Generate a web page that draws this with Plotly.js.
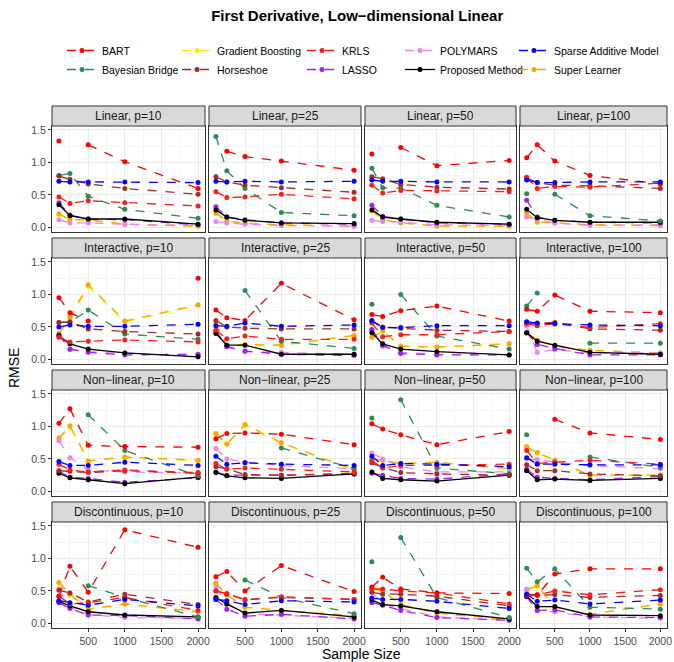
<!DOCTYPE html>
<html>
<head>
<meta charset="utf-8">
<script src="https://cdn.plot.ly/plotly-3.0.1.min.js"></script>
<style>body{margin:0;background:#fff}#chart{width:674px;height:662px}</style>
</head>
<body>
<div id="chart"></div>
<script>
// sample sizes and facet labels
const sampleSizes = [100, 250, 500, 1000, 2000];
const rowLabels = ['Linear', 'Interactive', 'Non\u2212linear', 'Discontinuous'];
const colLabels = ['p=10', 'p=25', 'p=50', 'p=100'];

// one row per panel (row-major: Linear p10..p100, Interactive..., ...)
const bart = [
  [1.33, null, 1.27, 1.01, 0.60], [null, 1.17, 1.09, 1.02, 0.88], [1.13, null, 1.23, 0.95, 1.03], [1.07, 1.27, 1.02, 0.80, 0.67],
  [0.95, 0.72, 0.59, null, 1.25], [0.76, 0.64, 0.60, 1.17, 0.61], [0.69, 0.66, 0.75, 0.82, 0.59], [0.77, 0.74, 0.99, 0.74, 0.72],
  [1.05, 1.27, 0.71, 0.69, 0.68], [0.81, 0.89, 0.90, 0.88, 0.72], [1.04, 0.96, 0.87, 0.72, 0.92], [null, null, 1.11, 0.90, 0.80],
  [0.42, 0.88, 0.48, 1.44, 1.17], [0.72, 0.80, 0.50, 0.89, 0.49], [0.56, 0.71, 0.53, 0.47, 0.46], [0.44, 0.43, 0.76, 0.84, 0.84],
];
const krls = [
  [0.47, 0.37, 0.41, 0.38, 0.33], [0.55, 0.46, 0.47, 0.51, 0.44], [0.65, 0.53, 0.57, 0.56, 0.55], [0.77, 0.60, 0.63, 0.62, 0.68],
  [0.34, 0.27, 0.28, 0.30, 0.27], [0.45, 0.32, 0.36, 0.31, 0.31], [0.56, 0.35, 0.38, 0.38, 0.43], [0.55, 0.52, 0.55, 0.49, 0.55],
  [0.42, 0.33, 0.30, 0.33, 0.29], [0.43, 0.34, 0.36, 0.34, 0.30], [0.47, 0.36, 0.40, 0.40, 0.42], [0.63, 0.43, 0.45, 0.48, 0.42],
  [0.42, 0.30, 0.32, 0.40, 0.20], [0.50, 0.46, 0.36, 0.41, 0.37], [0.53, 0.53, 0.50, 0.47, 0.30], [0.45, 0.44, 0.50, 0.44, 0.52],
];
const bayesBridge = [
  [0.80, 0.83, 0.48, 0.28, 0.14], [1.40, 0.87, 0.60, 0.23, 0.18], [0.91, 0.61, 0.61, 0.34, 0.16], [0.52, null, 0.51, 0.18, 0.10],
  [0.57, 0.57, 0.76, 0.39, 0.31], [null, null, 1.06, 0.28, 0.17], [0.85, null, 1.00, 0.36, 0.16], [0.82, 1.02, null, 0.25, 0.25],
  [null, null, 1.18, 0.63, 0.24], [null, null, null, 0.67, 0.35], [1.13, null, 1.41, 0.36, 0.27], [0.87, null, null, 0.53, 0.37],
  [null, null, 0.58, 0.40, 0.10], [null, null, 0.67, 0.40, 0.15], [0.95, null, 1.32, 0.40, 0.09], [0.85, 0.64, 0.84, 0.25, 0.22],
];
const horseshoe = [
  [0.79, 0.74, 0.67, 0.60, 0.51], [0.78, 0.70, 0.65, 0.61, 0.54], [0.78, 0.75, 0.66, 0.62, 0.59], [0.76, 0.69, 0.65, 0.64, 0.60],
  [0.57, 0.58, 0.47, 0.43, 0.39], [0.60, 0.50, 0.48, 0.47, 0.47], [0.58, 0.50, 0.48, 0.45, 0.43], [0.56, 0.55, 0.57, 0.47, 0.45],
  [0.32, 0.31, 0.29, 0.32, 0.28], [0.38, 0.35, 0.26, 0.25, 0.28], [0.44, 0.37, 0.29, 0.27, 0.25], [0.41, 0.32, 0.32, 0.27, 0.24],
  [0.51, 0.47, 0.33, 0.45, 0.29], [0.50, 0.45, 0.37, 0.40, 0.37], [0.48, 0.45, 0.45, 0.42, 0.27], [0.43, 0.44, 0.44, 0.40, 0.43],
];
const sparseAdditive = [
  [0.71, 0.70, 0.70, 0.70, 0.69], [0.71, 0.70, 0.71, 0.70, 0.71], [0.73, 0.71, 0.71, 0.70, 0.70], [0.73, 0.69, 0.69, 0.70, 0.70],
  [0.50, 0.53, 0.51, 0.51, 0.54], [0.52, 0.51, 0.56, 0.51, 0.53], [0.60, 0.49, 0.49, 0.52, 0.52], [0.58, 0.56, 0.55, 0.53, 0.52],
  [0.46, 0.40, 0.40, 0.45, 0.40], [0.54, 0.42, 0.44, 0.42, 0.40], [0.54, 0.40, 0.43, 0.42, 0.38], [0.52, 0.42, 0.42, 0.41, 0.41],
  [0.35, 0.32, 0.28, 0.37, 0.27], [0.37, 0.35, 0.29, 0.35, 0.33], [0.39, 0.37, 0.37, 0.34, 0.23], [0.45, 0.34, 0.36, 0.30, 0.36],
];
const superLearner = [
  [0.21, 0.12, 0.12, 0.05, 0.02], [0.22, 0.10, 0.06, 0.04, 0.02], [0.26, 0.12, 0.07, 0.02, 0.02], [0.22, 0.08, 0.07, 0.04, 0.03],
  [0.40, 0.65, 1.15, 0.59, 0.84], [0.56, 0.20, 0.23, 0.22, 0.37], [0.34, 0.44, 0.20, 0.19, 0.24], [0.41, 0.30, 0.20, 0.14, 0.10],
  [0.82, 1.01, 0.47, 0.53, 0.48], [0.89, 0.73, 1.03, 0.75, 0.33], [0.50, 0.48, 0.43, 0.45, 0.35], [0.69, 0.60, 0.48, 0.25, 0.25],
  [0.63, 0.45, 0.22, 0.30, 0.18], [0.62, 0.44, 0.25, 0.20, 0.12], [0.54, 0.50, 0.29, 0.16, 0.06], [0.52, 0.58, 0.25, 0.14, 0.30],
];
const gradientBoosting = [
  [0.20, 0.12, 0.11, 0.05, 0.02], [0.22, 0.10, 0.07, 0.04, 0.02], [0.25, 0.12, 0.07, 0.03, 0.02], [0.22, 0.09, 0.07, 0.04, 0.03],
  [0.40, 0.62, 1.12, 0.58, 0.83], [0.55, 0.21, 0.23, 0.22, 0.36], [0.34, 0.43, 0.21, 0.19, 0.24], [0.40, 0.30, 0.20, 0.14, 0.10],
  [0.81, 0.99, 0.47, 0.52, 0.47], [0.88, 0.73, 1.01, 0.74, 0.33], [0.50, 0.47, 0.43, 0.44, 0.35], [0.68, 0.59, 0.48, 0.25, 0.25],
  [0.62, 0.44, 0.22, 0.30, 0.18], [0.61, 0.44, 0.25, 0.20, 0.12], [0.53, 0.49, 0.29, 0.16, 0.06], [0.51, 0.57, 0.25, 0.14, 0.30],
];
const lasso = [
  [0.38, 0.19, 0.13, 0.12, 0.04], [0.32, 0.16, 0.12, 0.07, 0.05], [0.34, 0.17, 0.13, 0.07, 0.05], [0.42, 0.16, 0.11, 0.08, 0.07],
  [0.38, 0.16, 0.11, 0.07, 0.08], [0.44, 0.20, 0.13, 0.08, 0.06], [0.46, 0.22, 0.09, 0.07, 0.07], [0.41, 0.23, 0.17, 0.07, 0.07],
  [0.31, 0.22, 0.20, 0.14, 0.21], [0.30, 0.25, 0.25, 0.25, 0.27], [0.28, 0.25, 0.20, 0.19, 0.27], [0.34, 0.22, 0.20, 0.18, 0.23],
  [0.32, 0.23, 0.13, 0.12, 0.07], [0.37, 0.22, 0.11, 0.14, 0.07], [0.32, 0.28, 0.20, 0.09, 0.05], [0.41, 0.20, 0.21, 0.10, 0.09],
];
const polymars = [
  [0.12, 0.07, 0.07, 0.05, 0.03], [0.09, 0.07, 0.05, 0.03, 0.02], [0.11, 0.09, 0.08, 0.04, 0.03], [0.16, 0.13, 0.07, 0.03, 0.04],
  [0.37, 0.15, 0.12, 0.09, 0.06], [0.42, 0.19, 0.12, 0.11, 0.08], [0.45, 0.20, 0.11, 0.08, 0.07], [0.52, 0.11, 0.15, 0.10, 0.10],
  [0.78, 0.52, 0.33, 0.30, 0.28], [0.66, 0.50, 0.45, 0.40, 0.35], [0.59, 0.50, 0.38, 0.30, 0.30], [0.50, 0.49, 0.45, 0.40, 0.35],
  [0.53, 0.25, 0.14, 0.09, 0.08], [0.56, 0.30, 0.15, 0.13, 0.08], [0.48, 0.30, 0.23, 0.10, 0.05], [0.53, 0.20, 0.18, 0.10, 0.08],
];
const proposed = [
  [0.35, 0.18, 0.13, 0.13, 0.05], [0.27, 0.16, 0.11, 0.07, 0.06], [0.27, 0.16, 0.13, 0.08, 0.05], [0.28, 0.15, 0.11, 0.08, 0.08],
  [0.36, 0.24, 0.16, 0.10, 0.04], [0.40, 0.22, 0.22, 0.08, 0.08], [0.41, 0.24, 0.16, 0.12, 0.07], [0.41, 0.28, 0.22, 0.11, 0.08],
  [0.28, 0.21, 0.18, 0.12, 0.22], [0.29, 0.24, 0.21, 0.20, 0.27], [0.30, 0.20, 0.18, 0.16, 0.25], [0.32, 0.18, 0.19, 0.17, 0.20],
  [0.34, 0.27, 0.18, 0.13, 0.10], [0.40, 0.30, 0.16, 0.20, 0.10], [0.36, 0.29, 0.27, 0.18, 0.07], [0.42, 0.26, 0.26, 0.13, 0.12],
];

// legend: five columns of two entries, one Plotly legend per column
const methods = [
  { name: 'BART', rows: bart, color: '#FF0000', dash: 'dash', leg: 'legend' },
  { name: 'Bayesian Bridge', rows: bayesBridge, color: '#2E8B57', dash: 'dash', leg: 'legend' },
  { name: 'Gradient Boosting', rows: gradientBoosting, color: '#FFEE00', dash: 'dash', leg: 'legend2' },
  { name: 'Horseshoe', rows: horseshoe, color: '#A52A2A', dash: 'dash', leg: 'legend2' },
  { name: 'KRLS', rows: krls, color: '#FF1A1A', dash: 'dash', leg: 'legend3' },
  { name: 'LASSO', rows: lasso, color: '#A020F0', dash: 'dash', leg: 'legend3' },
  { name: 'POLYMARS', rows: polymars, color: '#EE82EE', dash: 'dash', leg: 'legend4' },
  { name: 'Proposed Method', rows: proposed, color: '#000000', dash: 'solid', leg: 'legend4' },
  { name: 'Sparse Additive Model', rows: sparseAdditive, color: '#0000FF', dash: 'dash', leg: 'legend5' },
  { name: 'Super Learner', rows: superLearner, color: '#FFA500', dash: 'dash', leg: 'legend5' },
];
const legendX = [62, 177, 302, 400, 514];
// draw order (later on top)
const drawOrder = ['Gradient Boosting', 'Super Learner', 'POLYMARS', 'LASSO', 'Proposed Method', 'Bayesian Bridge',
  'Horseshoe', 'KRLS', 'BART', 'Sparse Additive Model'];

const W = 674, H = 662;
const colPx = [[52, 205], [209, 361], [365, 516], [520, 667]];
const stripTop = [106, 238, 370, 502];
const stripH = 20, plotH = 106;

const px = v => v / W;
const py = v => 1 - v / H;

const layout = {
  width: W, height: H,
  margin: { l: 0, r: 0, t: 0, b: 0 },
  paper_bgcolor: '#fff', plot_bgcolor: '#fff',
  font: { family: 'Liberation Sans, Arial, sans-serif', color: '#000' },
  showlegend: true,
  title: { text: '<b>First Derivative, Low\u2212dimensional Linear</b>', x: 0.53, y: py(16), yanchor: 'middle', font: { size: 15 } },
  shapes: [], annotations: [],
};
legendX.forEach((lx, i) => {
  layout['legend' + (i === 0 ? '' : i + 1)] = {
    orientation: 'v', x: px(lx), y: py(36), xanchor: 'left', yanchor: 'top',
    font: { size: 10.5 }, traceorder: 'normal', itemwidth: 30, tracegroupgap: 0, bgcolor: 'rgba(0,0,0,0)',
  };
});

for (let r = 0; r < 4; r++) {
  for (let c = 0; c < 4; c++) {
    const k = r * 4 + c + 1;
    const top = stripTop[r] + stripH, bot = top + plotH;
    layout['xaxis' + k] = {
      domain: [px(colPx[c][0]), px(colPx[c][1])], anchor: 'y' + k,
      range: [5, 2095], tickvals: [500, 1000, 1500, 2000],
      showticklabels: r === 3, ticks: r === 3 ? 'outside' : '', ticklen: 3, tickcolor: '#333',
      tickfont: { size: 10.5, color: '#4d4d4d' },
      showgrid: true, gridcolor: '#ebebeb', gridwidth: 1,
      minor: { tickvals: [250, 750, 1250, 1750], showgrid: true, gridcolor: '#f5f5f5' },
      showline: true, mirror: true, linecolor: '#333', linewidth: 1, zeroline: false,
    };
    layout['yaxis' + k] = {
      domain: [py(bot), py(top)], anchor: 'x' + k,
      range: [-0.07, 1.56], tickvals: [0, 0.5, 1, 1.5], ticktext: ['0.0', '0.5', '1.0', '1.5'],
      showticklabels: c === 0, ticks: c === 0 ? 'outside' : '', ticklen: 3, tickcolor: '#333',
      tickfont: { size: 10.5, color: '#4d4d4d' },
      showgrid: true, gridcolor: '#ebebeb',
      minor: { tickvals: [0.25, 0.75, 1.25], showgrid: true, gridcolor: '#f5f5f5' },
      showline: true, mirror: true, linecolor: '#333', linewidth: 1, zeroline: false,
    };
    layout.shapes.push({
      type: 'rect', xref: 'paper', yref: 'paper',
      x0: px(colPx[c][0]), x1: px(colPx[c][1]), y0: py(top), y1: py(stripTop[r]),
      fillcolor: '#d9d9d9', line: { color: '#333', width: 1 },
    });
    layout.annotations.push({
      xref: 'paper', yref: 'paper', x: (px(colPx[c][0]) + px(colPx[c][1])) / 2, y: py(stripTop[r] + stripH / 2),
      text: rowLabels[r] + ', ' + colLabels[c], showarrow: false, font: { size: 12, color: '#1a1a1a' },
      xanchor: 'center', yanchor: 'middle',
    });
  }
}
layout.annotations.push(
  { xref: 'paper', yref: 'paper', x: px(361), y: py(654), yanchor: 'middle', text: 'Sample Size', showarrow: false, font: { size: 14 } },
  { xref: 'paper', yref: 'paper', x: px(14), y: py(368), xanchor: 'center', text: 'RMSE', showarrow: false, textangle: -90, font: { size: 14 } }
);

const data = [];
// legend entries first
methods.forEach((m, i) => {
  data.push({
    x: [null], y: [null], type: 'scatter', mode: 'lines+markers', name: m.name, legendrank: i + 1, legend: m.leg,
    line: { color: m.color, dash: m.dash, width: 1.3 }, marker: { color: m.color, size: 5 },
    xaxis: 'x', yaxis: 'y', hoverinfo: 'skip',
  });
});
drawOrder.forEach(nm => {
  const m = methods.find(q => q.name === nm);
  m.rows.forEach((vals, p) => {
    const k = p + 1;
    data.push({
      x: sampleSizes, y: vals, type: 'scatter', mode: 'lines+markers', name: m.name, showlegend: false,
      line: { color: m.color, dash: m.dash, width: 1.3 }, marker: { color: m.color, size: 5 },
      xaxis: 'x' + (k === 1 ? '' : k), yaxis: 'y' + (k === 1 ? '' : k), connectgaps: false,
    });
  });
});
layout.xaxis = layout.xaxis1; layout.yaxis = layout.yaxis1;
delete layout.xaxis1; delete layout.yaxis1;
layout.xaxis.anchor = 'y'; layout.yaxis.anchor = 'x';

Plotly.newPlot('chart', data, layout, { displayModeBar: false, staticPlot: true });
</script>
</body>
</html>
